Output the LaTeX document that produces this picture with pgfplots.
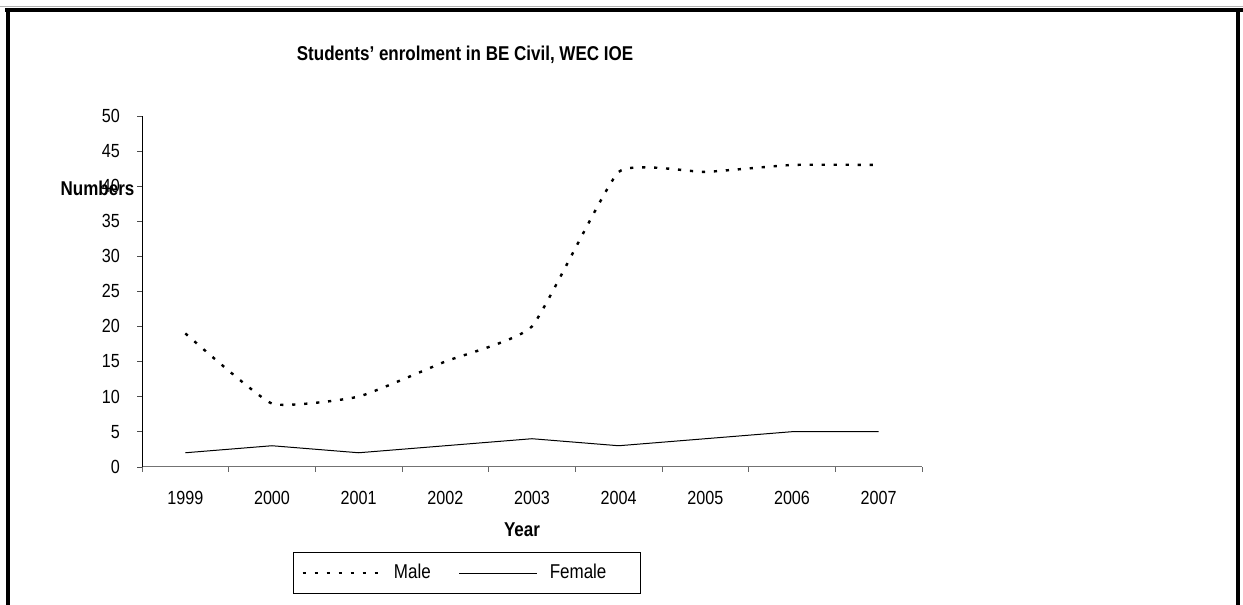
\documentclass[border=0pt]{standalone}
\usepackage{fontspec}
\setmainfont{Liberation Sans}[FakeStretch=0.85]
\usepackage{pgfplots}
\pgfplotsset{compat=1.18}

\begin{document}
\begin{tikzpicture}
% page = 1243 x 605 px, 1 px = 0.5pt
\path[use as bounding box] (0,0) rectangle (621.5pt,302.5pt);

\begin{axis}[
  at={(71pt,69.1pt)}, anchor=south west,
  scale only axis, width=390pt, height=175.5pt,
  xmin=-0.5, xmax=8.5, ymin=0, ymax=50,
  axis x line*=bottom, axis y line*=left,
  x axis line style={black!55},
  y axis line style={black},
  xtick={0,...,8},
  xticklabels={1999,2000,2001,2002,2003,2004,2005,2006,2007},
  minor xtick={-0.5,0.5,...,8.5},
  ytick={0,5,...,50},
  tick align=outside,
  major tick length=2.5pt, minor tick length=2.5pt,
  major x tick style={draw=none},
  minor x tick style={black!60},
  major y tick style={black!70},
  /pgf/number format/assume math mode=true,
  ticklabel style={font=\fontsize{9.5}{11}\selectfont},
  xticklabel style={yshift=-6pt},
  yticklabel style={xshift=-5pt},
  legend columns=-1,
  legend style={at={(0.1936,-0.2427)}, anchor=north west,
    draw=black, line width=0.5pt,
    font=\fontsize{10}{12}\selectfont,
    inner xsep=4pt, inner ysep=4pt,
    /tikz/every odd column/.append style={column sep=4pt},
    /tikz/every even column/.append style={column sep=12pt}},
  legend image code/.code={\draw[#1] (0pt,0pt) -- (39pt,0pt);},
]
\addplot[black, line width=1.2pt, dash pattern=on 1.6pt off 4.4pt, smooth, tension=0.25]
  coordinates {(0,19) (1,9) (2,10) (3,15) (4,20) (5,42) (6,42) (7,43) (8,43)};
\addlegendentry{Male}
\addplot[black, line width=0.5pt]
  coordinates {(0,2) (1,3) (2,2) (3,3) (4,4) (5,3) (6,4) (7,5) (8,5)};
\addlegendentry{Female\hspace*{11pt}}
\end{axis}

\begin{scope}[x=0.5pt, y=-0.5pt, shift={(0pt,302.5pt)}]
  % frame
  \draw[black!30, line width=0.5pt] (0,6.5) -- (1243,6.5);
  \draw[black, line width=1.9pt] (5,10) -- (1243,10);
  \draw[black, line width=1.9pt] (8,10) -- (8,605);
  \draw[black, line width=1.9pt] (1238,10) -- (1238,605);
  % titles
  \node[font=\bfseries\fontsize{10}{12}\selectfont] at (465,55) {Students' enrolment in BE Civil, WEC IOE};
  \node[font=\bfseries\fontsize{10}{12}\selectfont] at (97.5,188) {Numbers};
  \node[font=\bfseries\fontsize{10}{12}\selectfont] at (522,530) {Year};
\end{scope}
\end{tikzpicture}
\end{document}
